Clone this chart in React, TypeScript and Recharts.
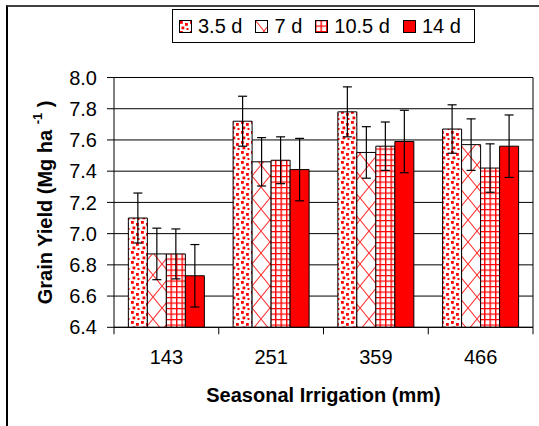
import React from 'react';
import { BarChart, Bar, XAxis, YAxis, CartesianGrid, ErrorBar, Legend } from 'recharts';

const categories = ['143', '251', '359', '466'];
const seriesNames = ['3.5 d', '7 d', '10.5 d', '14 d'];
const yield35 = [7.10, 7.72, 7.78, 7.67];
const yield7 = [6.87, 7.46, 7.52, 7.57];
const yield105 = [6.87, 7.47, 7.56, 7.42];
const yield14 = [6.73, 7.41, 7.59, 7.56];
const err35 = [0.16, 0.16, 0.16, 0.155];
const err7 = [0.165, 0.155, 0.165, 0.165];
const err105 = [0.16, 0.15, 0.155, 0.155];
const err14 = [0.2, 0.2, 0.2, 0.2];
const yTicks = [6.4, 6.6, 6.8, 7.0, 7.2, 7.4, 7.6, 7.8, 8.0];

const data = categories.map((c, i) => ({
  cat: c,
  v35: yield35[i], e35: err35[i],
  v7: yield7[i], e7: err7[i],
  v105: yield105[i], e105: err105[i],
  v14: yield14[i], e14: err14[i],
}));

const FONT = '"Liberation Sans", Arial, sans-serif';
const fills = ['url(#p35)', 'url(#p7)', 'url(#p105)', '#ff0000'];

const Patterns = () => (
  <svg width="0" height="0" style={{ position: 'absolute' }}>
    <defs>
      <pattern id="p35" width="10" height="10" patternUnits="userSpaceOnUse">
        <rect width="10" height="10" fill="#fff" />
        <rect x="1" y="1" width="2.8" height="2.8" fill="#ff0000" />
        <rect x="6" y="3" width="2.8" height="2.8" fill="#ff0000" />
        <rect x="2.5" y="6.5" width="2.8" height="2.8" fill="#ff0000" />
        <rect x="7.5" y="8" width="2" height="2" fill="#ff0000" />
      </pattern>
      <pattern id="p7" width="18" height="22" patternUnits="userSpaceOnUse">
        <rect width="18" height="22" fill="#fff" />
        <path d="M0 0 L18 22 M18 0 L0 22" stroke="#ff3030" strokeWidth="1.1" />
      </pattern>
      <pattern id="p105" width="5.5" height="5.5" patternUnits="userSpaceOnUse">
        <rect width="5.5" height="5.5" fill="#fff" />
        <rect x="0" y="0" width="1.4" height="5.5" fill="#ff0000" />
        <rect x="0" y="0" width="5.5" height="1.2" fill="#ff0000" />
      </pattern>
    </defs>
  </svg>
);

const XTick = (props: any) => {
  const { x, y, payload, width, index } = props;
  const half = payload && payload.offset ? payload.offset : width / categories.length / 2;
  const isLast = (payload?.index ?? index) === categories.length - 1;
  return (
    <g>
      <line x1={x - half} x2={x - half} y1={y} y2={y + 7} stroke="#000" strokeWidth={1} />
      {isLast && <line x1={x + half} x2={x + half} y1={y} y2={y + 7} stroke="#000" strokeWidth={1} />}
      <text x={x} y={y + 37} textAnchor="middle" fontFamily={FONT} fontSize={20} fill="#000">
        {payload.value}
      </text>
    </g>
  );
};

const YTitle = (props: any) => {
  const vb = props.viewBox || {};
  const cx = (vb.x || 0) + 45;
  const cy = (vb.y || 0) + (vb.height || 0) / 2;
  return (
    <text
      x={cx}
      y={cy}
      transform={`rotate(-90, ${cx}, ${cy})`}
      textAnchor="middle"
      dominantBaseline="central"
      fontFamily={FONT}
      fontSize={20}
      fontWeight="bold"
      fill="#000"
    >
      Grain Yield (Mg ha <tspan fontSize={13} dy={-8}>-1</tspan><tspan dy={8}> )</tspan>
    </text>
  );
};

const XTitle = (props: any) => {
  const vb = props.viewBox || {};
  const cx = (vb.x || 0) + (vb.width || 0) / 2;
  const y = (vb.y || 0) + 74.5;
  return (
    <text x={cx} y={y} textAnchor="middle" fontFamily={FONT} fontSize={20} fontWeight="bold" fill="#000">
      Seasonal Irrigation (mm)
    </text>
  );
};

const LegendBox = () => (
  <div
    style={{
      boxSizing: 'border-box',
      width: 303,
      height: 34,
      border: '1px solid #000',
      background: '#fff',
      display: 'flex',
      alignItems: 'center',
      paddingLeft: 6,
      fontFamily: FONT,
      fontSize: 20,
      color: '#000',
    }}
  >
    {seriesNames.map((n, i) => (
      <div key={n} style={{ display: 'flex', alignItems: 'center', marginRight: 13 }}>
        <svg width="13" height="13" style={{ marginRight: 6, display: 'block' }}>
          <rect x="0.5" y="0.5" width="12" height="12" fill={fills[i]} stroke="#000" strokeWidth="1" />
        </svg>
        <span style={{ lineHeight: '20px' }}>{n}</span>
      </div>
    ))}
  </div>
);

export default function App() {
  return (
    <div style={{ position: 'absolute', left: 0, top: 0, width: 539, height: 426, background: '#fff' }}>
      <Patterns />
      <div
        style={{
          position: 'absolute',
          left: 6,
          top: 5,
          width: 533,
          height: 421,
          borderTop: '2px solid #404040',
          borderLeft: '2px solid #000',
          boxSizing: 'border-box',
        }}
      />
      <div style={{ position: 'absolute', left: 0, top: 0 }}>
        <BarChart
          width={539}
          height={426}
          data={data}
          margin={{ top: 77.5, right: 0, bottom: 0, left: 0 }}
          barCategoryGap="13.7%"
          barGap={0}
        >
          <CartesianGrid vertical={false} stroke="#000" strokeWidth={1} />
          <XAxis
            dataKey="cat"
            height={98.7}
            axisLine={{ stroke: '#000', strokeWidth: 1 }}
            tickLine={false}
            tickSize={0}
            tickMargin={0}
            tick={<XTick />}
            interval={0}
            label={{ content: (p: any) => <XTitle {...p} /> }}
          />
          <YAxis
            width={114}
            domain={[6.4, 8.0]}
            ticks={yTicks}
            type="number"
            allowDataOverflow
            tickFormatter={(v: number) => v.toFixed(1)}
            axisLine={{ stroke: '#000', strokeWidth: 1 }}
            tickLine={{ stroke: '#000', strokeWidth: 1 }}
            tickSize={7}
            tickMargin={10}
            tick={{ fontFamily: FONT, fontSize: 20, fill: '#000' }}
            label={{ content: (p: any) => <YTitle {...p} /> }}
          />
          <YAxis
            yAxisId="r"
            orientation="right"
            width={6}
            domain={[6.4, 8.0]}
            type="number"
            tick={false}
            tickLine={false}
            axisLine={{ stroke: '#000', strokeWidth: 1 }}
          />
          <Legend
            layout="horizontal"
            verticalAlign="middle"
            align="center"
            wrapperStyle={{ left: 172, top: 9, width: 303, height: 34 }}
            content={() => <LegendBox />}
          />
          <Bar dataKey="v35" name={seriesNames[0]} fill={fills[0]} stroke="#000" strokeWidth={1} isAnimationActive={false}>
            <ErrorBar dataKey="e35" width={4.5} stroke="#000" strokeWidth={1.2} direction="y" />
          </Bar>
          <Bar dataKey="v7" name={seriesNames[1]} fill={fills[1]} stroke="#000" strokeWidth={1} isAnimationActive={false}>
            <ErrorBar dataKey="e7" width={4.5} stroke="#000" strokeWidth={1.2} direction="y" />
          </Bar>
          <Bar dataKey="v105" name={seriesNames[2]} fill={fills[2]} stroke="#000" strokeWidth={1} isAnimationActive={false}>
            <ErrorBar dataKey="e105" width={4.5} stroke="#000" strokeWidth={1.2} direction="y" />
          </Bar>
          <Bar dataKey="v14" name={seriesNames[3]} fill={fills[3]} stroke="#000" strokeWidth={1} isAnimationActive={false}>
            <ErrorBar dataKey="e14" width={4.5} stroke="#000" strokeWidth={1.2} direction="y" />
          </Bar>
        </BarChart>
      </div>
    </div>
  );
}
